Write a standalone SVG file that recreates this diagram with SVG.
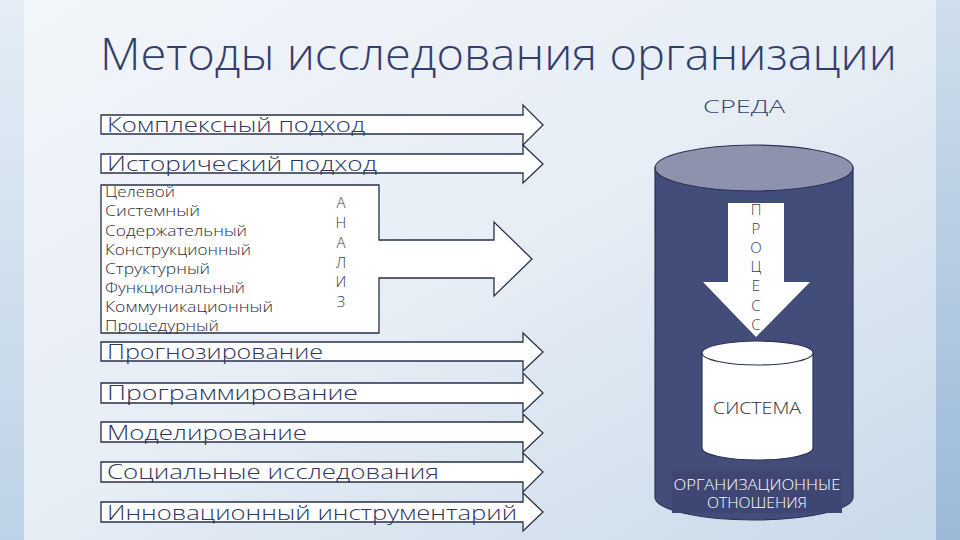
<svg xmlns="http://www.w3.org/2000/svg" width="960" height="540" viewBox="0 0 960 540">
<defs>
<linearGradient id="bg" x1="0" y1="0" x2="1" y2="1">
<stop offset="0" stop-color="#f3f6fa"/>
<stop offset="0.5" stop-color="#e6edf5"/>
<stop offset="1" stop-color="#c8d9e9"/>
</linearGradient>
<linearGradient id="lstrip" x1="0" y1="0" x2="0" y2="1">
<stop offset="0" stop-color="#e4edf6"/>
<stop offset="1" stop-color="#bdd2e6"/>
</linearGradient>
<linearGradient id="rstrip" x1="0" y1="0" x2="0" y2="1">
<stop offset="0" stop-color="#cfdeec"/>
<stop offset="1" stop-color="#9bb9d7"/>
</linearGradient>
<style>
text{font-family:"Open Sans","DejaVu Sans","Liberation Sans",sans-serif;font-weight:300}
.arr{fill:#ffffff;stroke:#2a2f4a;stroke-width:1.3;stroke-linejoin:miter}
.lbl{font-size:21px;fill:#2f365f}
.sm{font-size:15px;fill:#2e2e3a}
.ltr{font-size:15px;fill:#3a3a44;text-anchor:middle}
.cyl{stroke:#2b3357;stroke-width:1.2}
</style>
</defs>
<rect width="960" height="540" fill="url(#bg)"/>
<rect x="0" y="0" width="24" height="540" fill="url(#lstrip)"/>
<rect x="936" y="0" width="24" height="540" fill="url(#rstrip)"/>

<text x="100" y="70" font-size="44" fill="#343e6d" textLength="797" lengthAdjust="spacingAndGlyphs">Методы исследования организации</text>

<g id="connectors">
<g id="arrow-kompleks">
<path class="arr" d="M101,115 H523 V105 L543,125 L523,145 V134 H101 Z"/>
<text class="lbl" x="107" y="132" textLength="258" lengthAdjust="spacingAndGlyphs">Комплексный подход</text>
</g>
<g id="arrow-istor">
<path class="arr" d="M101,154 H523 V145 L543,164 L523,183 V173 H101 Z"/>
<text class="lbl" x="107" y="171" textLength="270" lengthAdjust="spacingAndGlyphs">Исторический подход</text>
</g>
<g id="analiz">
<path class="arr" d="M101,185 H379 V240 H494 V222 L532,259 L494,296 V278 H379 V333 H101 Z"/>
<text class="sm" x="105" y="197" textLength="70" lengthAdjust="spacingAndGlyphs">Целевой</text>
<text class="sm" x="105" y="216" textLength="95" lengthAdjust="spacingAndGlyphs">Системный</text>
<text class="sm" x="105" y="235.5" textLength="142" lengthAdjust="spacingAndGlyphs">Содержательный</text>
<text class="sm" x="105" y="255" textLength="146" lengthAdjust="spacingAndGlyphs">Конструкционный</text>
<text class="sm" x="105" y="274" textLength="105" lengthAdjust="spacingAndGlyphs">Структурный</text>
<text class="sm" x="105" y="293" textLength="140" lengthAdjust="spacingAndGlyphs">Функциональный</text>
<text class="sm" x="105" y="312" textLength="168" lengthAdjust="spacingAndGlyphs">Коммуникационный</text>
<text class="sm" x="105" y="331" textLength="114" lengthAdjust="spacingAndGlyphs">Процедурный</text>
<text class="ltr" x="341" y="208">А</text>
<text class="ltr" x="341" y="228">Н</text>
<text class="ltr" x="341" y="248">А</text>
<text class="ltr" x="341" y="268">Л</text>
<text class="ltr" x="341" y="287">И</text>
<text class="ltr" x="341" y="307">З</text>
</g>
<g id="arrow-prognoz">
<path class="arr" d="M101,342 H523 V333 L543,352 L523,371 V361 H101 Z"/>
<text class="lbl" x="107" y="359" textLength="216" lengthAdjust="spacingAndGlyphs">Прогнозирование</text>
</g>
<g id="arrow-program">
<path class="arr" d="M101,383 H523 V373 L543,393 L523,412 V403 H101 Z"/>
<text class="lbl" x="107" y="400" textLength="251" lengthAdjust="spacingAndGlyphs">Программирование</text>
</g>
<g id="arrow-model">
<path class="arr" d="M101,422 H523 V414 L543,433 L523,452 V442 H101 Z"/>
<text class="lbl" x="107" y="440" font-size="20" textLength="200" lengthAdjust="spacingAndGlyphs">Моделирование</text>
</g>
<g id="arrow-social">
<path class="arr" d="M101,462 H523 V453 L543,472 L523,492 V482 H101 Z"/>
<text class="lbl" x="107" y="479" textLength="332" lengthAdjust="spacingAndGlyphs">Социальные исследования</text>
</g>
<g id="arrow-innov">
<path class="arr" d="M101,502 H523 V493 L543,512 L523,531 V522 H101 Z"/>
<text class="lbl" x="107" y="520" textLength="410" lengthAdjust="spacingAndGlyphs">Инновационный инструментарий</text>
</g>
</g>

<g id="sreda">
<text x="744" y="113" font-size="18" fill="#38426e" text-anchor="middle" textLength="82" lengthAdjust="spacingAndGlyphs">СРЕДА</text>
<path class="cyl" d="M655,168 V497 A99,23 0 0 0 853,497 V168 Z" fill="#434d79"/>
<ellipse class="cyl" cx="754" cy="168" rx="99" ry="23" fill="#8d93ad"/>
<rect x="672" y="471" width="170" height="42" fill="#3e4774"/>
<text x="757" y="490" font-size="14" fill="#ffffff" text-anchor="middle" textLength="167" lengthAdjust="spacingAndGlyphs">ОРГАНИЗАЦИОННЫЕ</text>
<text x="757" y="508" font-size="14" fill="#ffffff" text-anchor="middle" textLength="100" lengthAdjust="spacingAndGlyphs">ОТНОШЕНИЯ</text>
</g>

<g id="process">
<path d="M728,203 H784 V282 H810 L756,337 L703,282 H728 Z" fill="#ffffff"/>
<text class="ltr" x="756" y="215">П</text>
<text class="ltr" x="756" y="234">Р</text>
<text class="ltr" x="756" y="253">О</text>
<text class="ltr" x="756" y="272">Ц</text>
<text class="ltr" x="756" y="291">Е</text>
<text class="ltr" x="756" y="311">С</text>
<text class="ltr" x="756" y="330">С</text>
</g>

<g id="sistema">
<path class="cyl" d="M702,353 V448 A55.5,12 0 0 0 813,448 V353 Z" fill="#ffffff"/>
<ellipse class="cyl" cx="757.5" cy="353" rx="55.5" ry="12" fill="#ffffff"/>
<text x="757" y="414" font-size="16" fill="#2e2e36" text-anchor="middle" textLength="88" lengthAdjust="spacingAndGlyphs">СИСТЕМА</text>
</g>
</svg>
